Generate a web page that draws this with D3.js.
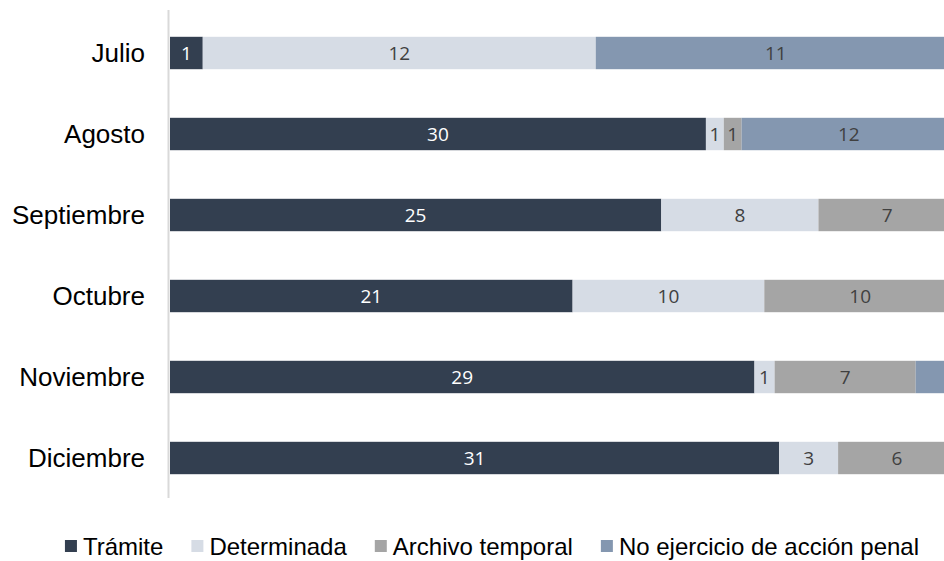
<!DOCTYPE html>
<meta charset="utf-8">
<style>
 body { margin: 0; background: #fff; }
 svg { display: block; }
 .axis-label { font-family: "Liberation Sans", Arial, sans-serif; font-size: 26px; fill: #000; }
 .val { font-family: "Open Sans", sans-serif; font-size: 19px; }
 .legend text { font-family: "Liberation Sans", Arial, sans-serif; font-size: 24px; fill: #000; }
</style>
<svg width="944" height="561"></svg>
<script src="https://d3js.org/d3.v7.min.js"></script>
<script>

 var months = ["Julio", "Agosto", "Septiembre", "Octubre", "Noviembre", "Diciembre"];
 var series = ["Trámite", "Determinada", "Archivo temporal", "No ejercicio de acción penal"];
 var tramite      = [1, 30, 25, 21, 29, 31];
 var determinada  = [12, 1, 8, 10, 1, 3];
 var archivo      = [0, 1, 7, 10, 7, 6];
 var noEjercicio  = [11, 12, 0, 0, 2, 0];
 var colors = ["#333f50", "#d6dce5", "#a5a5a5", "#8497b0"];
 var labelColors = ["#ffffff", "#404040", "#404040", "#404040"];

 var svg = d3.select("svg"),
     width = +svg.attr("width"),
     height = +svg.attr("height");

 var rows = months.map(function(m, i) {
   return {
     month: m,
     "Trámite": tramite[i],
     "Determinada": determinada[i],
     "Archivo temporal": archivo[i],
     "No ejercicio de acción penal": noEjercicio[i]
   };
 });

 // 100% stacked, plot area runs past the right edge like the source
 var stack = d3.stack().keys(series).offset(d3.stackOffsetExpand);
 var layers = stack(rows);

 var x = d3.scaleLinear().domain([0, 1]).range([170, 956]);
 var y = d3.scaleBand().domain(months).range([12.5, 498.5])
           .paddingInner(0.6).paddingOuter(0.3);

 // vertical axis line
 svg.append("line")
    .attr("x1", 168.5).attr("x2", 168.5)
    .attr("y1", 10).attr("y2", 498)
    .attr("stroke", "#d9d9d9").attr("stroke-width", 2);

 var layer = svg.append("g").selectAll("g")
   .data(layers)
   .enter().append("g")
   .attr("fill", function(d, i) { return colors[i]; });

 layer.selectAll("rect")
   .data(function(d) { return d; })
   .enter().append("rect")
   .attr("x", function(d) { return x(d[0]); })
   .attr("y", function(d) { return y(d.data.month); })
   .attr("width", function(d) { return x(d[1]) - x(d[0]); })
   .attr("height", y.bandwidth());

 // labels only for segments that are fully inside the picture (right end is cut off)
 layer.selectAll("text")
   .data(function(d) {
     return d.filter(function(p) { return p.data[d.key] > 0 && (x(p[0]) + x(p[1])) / 2 < 900; });
   })
   .enter().append("text")
   .attr("class", "val")
   .attr("text-anchor", "middle")
   .attr("dy", "0.36em")
   .attr("fill", function() { return labelColors[series.indexOf(d3.select(this.parentNode).datum().key)]; })
   .attr("x", function(d) { return (x(d[0]) + x(d[1])) / 2; })
   .attr("y", function(d) { return y(d.data.month) + y.bandwidth() / 2; })
   .text(function(d) {
     var key = d3.select(this.parentNode).datum().key;
     return d.data[key];
   });

 // month labels
 svg.append("g").selectAll("text")
   .data(months)
   .enter().append("text")
   .attr("class", "axis-label")
   .attr("text-anchor", "end")
   .attr("x", 145)
   .attr("y", function(d) { return y(d) + y.bandwidth() / 2; })
   .attr("dy", "0.36em")
   .text(function(d) { return d; });

 // legend
 var legend = svg.append("g").attr("class", "legend");
 var lx = 0, gap = 28;
 series.forEach(function(s, i) {
   var g = legend.append("g").attr("transform", "translate(" + lx + ",0)");
   g.append("rect").attr("x", 0).attr("y", -6).attr("width", 12).attr("height", 12)
    .attr("fill", colors[i]);
   var t = g.append("text").attr("x", 18).attr("dy", "0.36em").text(s);
   lx += 18 + t.node().getComputedTextLength() + gap;
 });
 lx -= gap;
 legend.attr("transform", "translate(" + (492 - lx / 2) + ",546)");

</script>
